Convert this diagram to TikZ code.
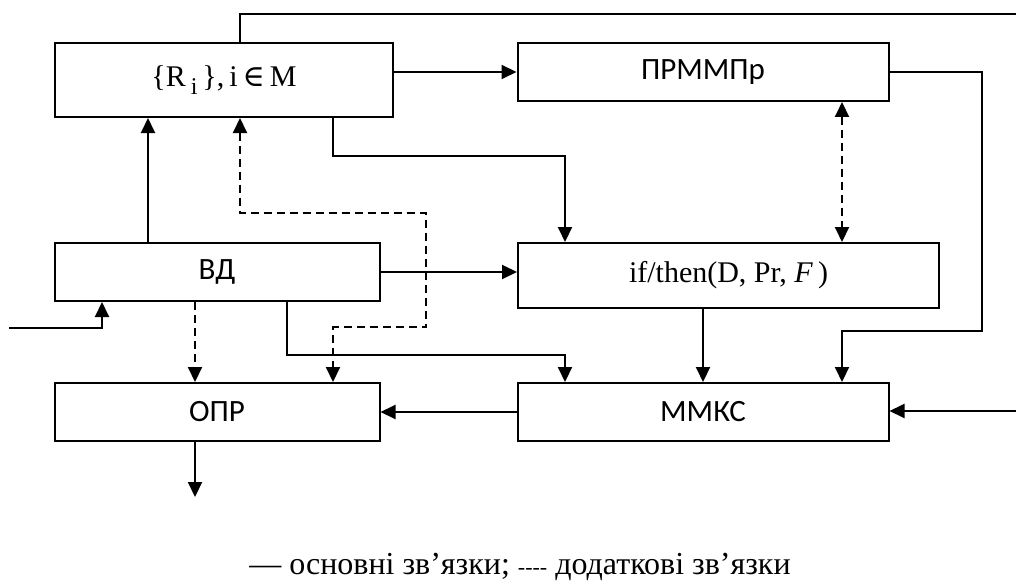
\documentclass[tikz,border=0pt]{standalone}
\usepackage{fontspec}
\setmainfont{Liberation Serif}
\newfontfamily\labelfont{Carlito}
\newfontfamily\symbfont{DejaVu Serif}
\usetikzlibrary{arrows.meta}

\begin{document}
\begin{tikzpicture}[x=1pt, y=-1pt,
    block/.style={draw, line width=2pt, inner sep=0pt,
      font=\labelfont\fontsize{31}{37}\selectfont},
    mathblock/.style={block, font=\fontsize{30}{36}\selectfont},
    link/.style={line width=2pt},
    arr/.style={link, -{Triangle[length=15pt, width=14pt]}},
    darr/.style={arr, dash pattern=on 8pt off 5pt}]
  \useasboundingbox (0,0) rectangle (1016,583);

  \node[mathblock, minimum width=338pt, minimum height=74pt] (R) at (224,80)
    {\{R\,\raisebox{-0.28em}{\fontsize{24}{24}\selectfont i}\,\},\,i\,{\symbfont ∈}\,M};
  \node[block, minimum width=371pt, minimum height=58pt] (prm) at (703,72) {ПРММПр};
  \node[block, minimum width=325pt, minimum height=58pt] (vd) at (217,272) {ВД};
  \node[mathblock, minimum width=421pt, minimum height=65pt] (ift) at (728.5,275.5)
    {if/then(D, Pr, \textit{F}\,)};
  \node[block, minimum width=325pt, minimum height=58pt] (opr) at (217,412) {ОПР};
  \node[block, minimum width=371pt, minimum height=58pt] (mmks) at (703,412) {ММКС};

  \coordinate (topend) at (1016,14);
  \coordinate (in) at (9,328);
  \coordinate (out) at (195,497);
  \coordinate (rin) at (1016,411);

  \draw[link] ([xshift=16pt]R.north) |- (topend);
  \draw[arr] (R.east |- prm.west) -- (prm.west);
  \draw[arr] ([xshift=109pt]R.south) -- ++(0,38) -| ([xshift=-163.5pt]ift.north);
  \draw[arr] ([xshift=-69pt]vd.north) -- ([xshift=-69pt]vd.north |- R.south);
  \draw[darr, {Triangle[length=15pt, width=14pt]}-{Triangle[length=15pt, width=14pt]}]
    ([xshift=16pt]R.south) -- ++(0,95) -- ++(186,0) -- ++(0,114)
    -| ([xshift=116pt]opr.north);
  \draw[arr] (vd.east) -- (ift.west |- vd.east);
  \draw[arr] (in) -| ([xshift=-115pt]vd.south);
  \draw[darr] ([xshift=-22pt]vd.south) -- ([xshift=-22pt]opr.north);
  \draw[arr] ([xshift=70pt]vd.south) -- ++(0,53) -| ([xshift=-138pt]mmks.north);
  \draw[arr] (out |- opr.south) -- (out);
  \draw[arr] (mmks.west) -- (opr.east);
  \draw[arr] (ift.south -| mmks.north) -- (mmks.north);
  \draw[arr] (prm.east) -- ++(92,0) -- ++(0,259) -| ([xshift=139pt]mmks.north);
  \draw[darr, {Triangle[length=15pt, width=14pt]}-{Triangle[length=15pt, width=14pt]}]
    ([xshift=139pt]prm.south) -- ([xshift=139pt]prm.south |- ift.north);
  \draw[arr] (rin) -- (mmks.east |- rin);

  \node[anchor=base, inner sep=0pt, font=\fontsize{32}{38}\selectfont] (legend) at (520,574)
    {— основні зв’язки; {\fontsize{22}{26}\selectfont -{}-{}-{}-} додаткові зв’язки};
\end{tikzpicture}
\end{document}
